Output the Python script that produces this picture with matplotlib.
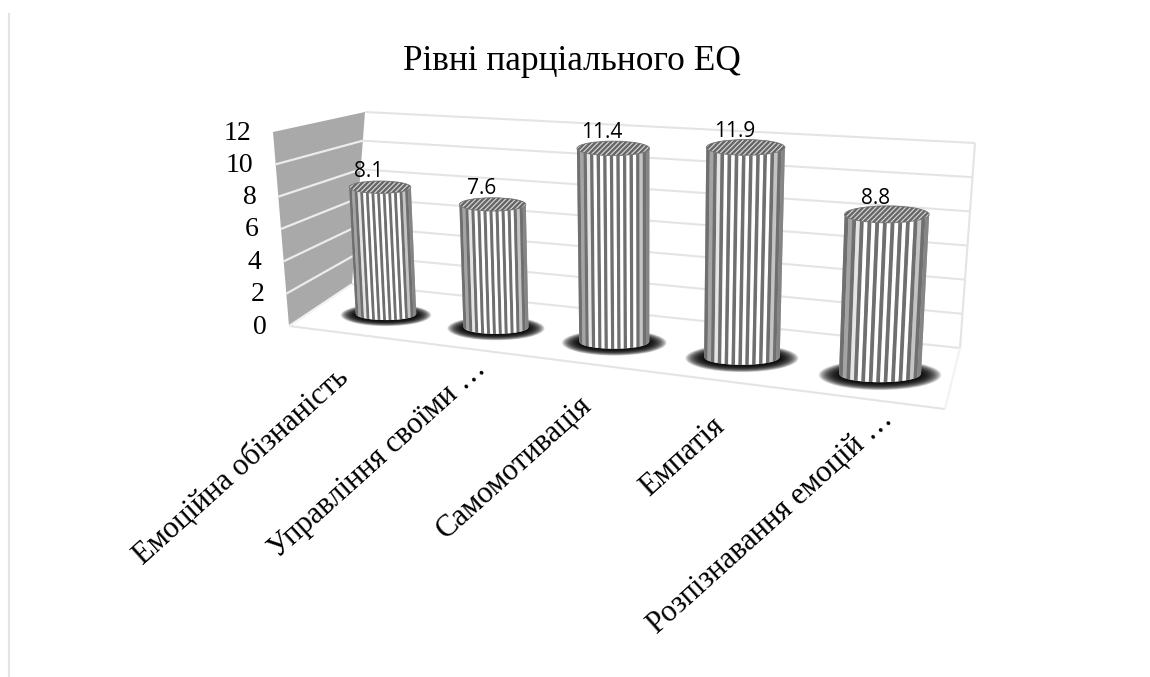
import numpy as np
import matplotlib
matplotlib.use("Agg")
import matplotlib.pyplot as plt
from matplotlib.patches import Ellipse, Polygon

# data
categories = ["Емоційна обізнаність", "Управління своїми …", "Самомотивація",
              "Емпатія", "Розпізнавання емоцій …"]
values = [8.1, 7.6, 11.4, 11.9, 8.8]
value_labels = ["8.1", "7.6", "11.4", "11.9", "8.8"]
y_ticks = [0, 2, 4, 6, 8, 10, 12]
title = "Рівні парціального EQ"

# where the end of each slanted category label sits, pixels
label_ends = [(335, 363), (473, 354), (578, 391), (711, 412), (879, 405)]

SERIF = "Liberation Serif"
GRID = "#e4e4e4"
WALL = "#a9a9a9"
STRIPE = "#6f6f6f"
Y_MAX = 12

# the picture is a skewed 3d view, so each surface gets its own corners (pixels)
front_left = [(289, 326), (273, 132)]   # value 0, value 12
back_left = [(352, 284), (365, 112)]
back_right = [(960, 348), (975, 143)]
front_right = (945, 409)

# plane through the bar axes: (category, value) corners -> pixels
plane_world = [(0, 0), (0, Y_MAX), (4, 0), (4, Y_MAX)]
plane_pixels = [(386, 314), (377, 124), (880, 374), (889.5, 154)]


def fit_plane(world, pixels):
    rows = []
    for (a, b), (u, v) in zip(world, pixels):
        rows.append([a, b, 1, 0, 0, 0, -u * a, -u * b, -u])
        rows.append([0, 0, 0, a, b, 1, -v * a, -v * b, -v])
    _, _, vt = np.linalg.svd(np.array(rows, dtype=float))
    return vt[-1].reshape(3, 3)


H = fit_plane(plane_world, plane_pixels)


def project(cat, val):
    h = H @ np.array([cat, val, 1.0])
    return h[0] / h[2], h[1] / h[2]


def on_edge(edge, val):
    s = val / Y_MAX
    return (edge[0][0] + (edge[1][0] - edge[0][0]) * s,
            edge[0][1] + (edge[1][1] - edge[0][1]) * s)


def line(ax, a, b, color=GRID, lw=1.5):
    ax.plot([a[0], b[0]], [a[1], b[1]], color=color, lw=lw, zorder=2,
            solid_capstyle="butt")


def cylinder(ax, cat, val, label):
    radius = 0.285
    bx, by = project(cat, 0)
    tx, ty = project(cat, val)
    bw = (project(cat + radius, 0)[0] - project(cat - radius, 0)[0]) / 2
    tw = (project(cat + radius, val)[0] - project(cat - radius, val)[0]) / 2
    bh, th = bw * 0.2, tw * 0.2

    # soft shadow on the floor
    for s in np.linspace(1.5, 1.0, 30):
        ax.add_patch(Ellipse((bx, by + 1), 2 * bw * s, 2 * bh * (1 + (s - 1) * 1.7),
                             fc="black", ec="none", alpha=0.08, zorder=3))

    # solid body behind the stripes, so no shadow shows through the seams
    uu = np.linspace(-1, 1, 40)
    body_b = np.column_stack([bx + uu * bw, by + bh * np.sqrt(1 - uu ** 2)])
    body_t = np.column_stack([tx + uu * tw, ty + th * np.sqrt(1 - uu ** 2)])
    ax.add_patch(Polygon(np.vstack([body_t, body_b[::-1]]), fc="#b0b0b0", ec="none", zorder=3.5))

    us = np.linspace(-1, 1, 23)
    for k in range(len(us) - 1):
        u = np.linspace(us[k], us[k + 1], 6)
        front_b = np.column_stack([bx + u * bw, by + bh * np.sqrt(1 - u ** 2)])
        front_t = np.column_stack([tx + u * tw, ty + th * np.sqrt(1 - u ** 2)])
        edge = max(abs(us[k]), abs(us[k + 1]))
        shade = max(0, edge - 0.65) / 0.35
        if k % 2 == 0:
            col = STRIPE
        else:
            g = 1 - 0.48 * shade
            col = (g, g, g)
        ax.add_patch(Polygon(np.vstack([front_t, front_b[::-1]]), fc=col, ec="none", zorder=4))

    top = Ellipse((tx, ty), 2 * tw, 2 * th, fc="#d8d8d8", ec="#777777", lw=0.6, zorder=5)
    ax.add_patch(top)
    for d in np.arange(-tw - th, tw + th, 5.0):
        hatch, = ax.plot([tx + d - th, tx + d + th], [ty + th, ty - th], color="#666666",
                         lw=1.7, zorder=6)
        hatch.set_clip_path(top)

    ax.text(tx - 11, ty - 16, label, family="Open Sans", fontsize=15, ha="center",
            va="center", color="black", zorder=7)


fig = plt.figure(figsize=(11.5, 6.77), dpi=100)
ax = fig.add_axes([0, 0, 1, 1])
ax.set_xlim(0, 1150)
ax.set_ylim(677, 0)
ax.axis("off")

# page border on the left
ax.plot([9.3, 9.3], [13, 677], color="#e4e4e4", lw=1.6, zorder=1, solid_capstyle="butt")

# left wall and its grid
ax.add_patch(Polygon([front_left[0], front_left[1], back_left[1], back_left[0]],
                     fc=WALL, ec="none", zorder=1))
for t in y_ticks:
    a, b, c = on_edge(front_left, t), on_edge(back_left, t), on_edge(back_right, t)
    if t not in (0, Y_MAX):
        line(ax, a, b, color="#ececec", lw=1.6)
    line(ax, b, c)
    ax.text(a[0] - 22, a[1] + 1, str(t), family=SERIF, fontsize=20, ha="right", va="center")

# right edge of back wall and floor edges
line(ax, back_right[0], back_right[1])
line(ax, front_left[0], front_right)
line(ax, front_right, back_right[0], color="#f2f2f2")
line(ax, front_left[0], back_left[0], color="#f0f0f0")

for i, v in enumerate(values):
    cylinder(ax, i, v, value_labels[i])

for name, (x, y) in zip(categories, label_ends):
    ax.text(x, y, name, family=SERIF, fontsize=22, rotation=42, ha="right", va="top",
            rotation_mode="anchor")

ax.text(572, 61, title, family=SERIF, fontsize=25.4, ha="center", va="center")

fig.savefig("out.png", dpi=100)
